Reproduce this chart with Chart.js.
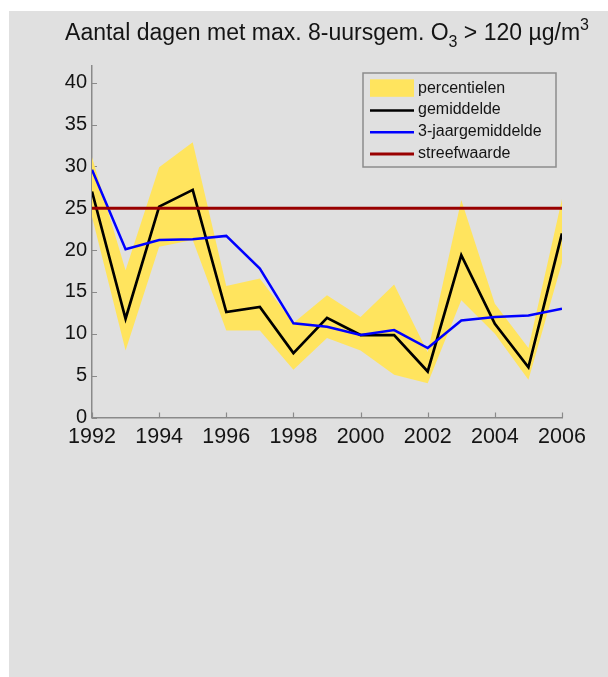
<!DOCTYPE html>
<html>
<head>
<meta charset="utf-8">
<script src="https://cdn.jsdelivr.net/npm/chart.js@4/dist/chart.umd.min.js"></script>
<style>
  html, body { margin: 0; padding: 0; background: #ffffff; }
  #panel { position: absolute; left: 9px; top: 11px; width: 599px; height: 666px; background: #e0e0e0; }
  canvas { display: block; }
</style>
</head>
<body>
<div id="panel"><canvas id="chart" width="599" height="666"></canvas></div>
<script>
// Aantal dagen met max. 8-uursgemiddelde O3 > 120 µg/m3, 1992-2006
const years = [1992, 1993, 1994, 1995, 1996, 1997, 1998, 1999, 2000, 2001, 2002, 2003, 2004, 2005, 2006];
const gemiddelde = [27.0, 11.8, 25.2, 27.2, 12.6, 13.2, 7.7, 11.9, 9.85, 9.85, 5.5, 19.4, 11.2, 6.0, 22.0];
const jaargemiddelde3 = [29.6, 20.1, 21.2, 21.3, 21.7, 17.8, 11.25, 10.85, 9.85, 10.45, 8.3, 11.6, 12.0, 12.2, 13.0];
const percentielHoog = [31.1, 17.6, 29.9, 32.9, 15.7, 16.6, 11.3, 14.6, 12.0, 15.9, 7.8, 26.0, 13.6, 8.3, 26.1];
const percentielLaag = [24.0, 8.0, 20.4, 21.2, 10.4, 10.4, 5.7, 9.5, 8.0, 5.1, 4.1, 14.0, 10.0, 4.5, 18.5];
const streefwaarde = [25, 25, 25, 25, 25, 25, 25, 25, 25, 25, 25, 25, 25, 25, 25];
const yTickValues = [0, 5, 10, 15, 20, 25, 30, 35, 40];
const xTickValues = [1992, 1994, 1996, 1998, 2000, 2002, 2004, 2006];

const FONT = '"Liberation Sans", Arial, Helvetica, sans-serif';
const AXIS_GREY = '#8a8a8a';
const TEXT = '#141414';

const series = (vals) => years.map((x, i) => ({ x: x, y: vals[i] }));

// Title with subscript and superscript
const titlePlugin = {
  id: 'titleO3',
  afterDraw(chart) {
    const ctx = chart.ctx;
    const parts = [
      { t: 'Aantal dagen met max. 8-uursgem. O', size: 23, dy: 0 },
      { t: '3', size: 16, dy: 7 },
      { t: ' > 120 µg/m', size: 23, dy: 0 },
      { t: '3', size: 16, dy: -10 }
    ];
    ctx.save();
    ctx.fillStyle = TEXT;
    ctx.textBaseline = 'alphabetic';
    ctx.textAlign = 'left';
    let total = 0;
    parts.forEach(p => { ctx.font = p.size + 'px ' + FONT; p.w = ctx.measureText(p.t).width; total += p.w; });
    const area = chart.chartArea;
    let x = (area.left + area.right) / 2 - total / 2;
    const base = 29;
    parts.forEach(p => { ctx.font = p.size + 'px ' + FONT; ctx.fillText(p.t, x, base + p.dy); x += p.w; });
    ctx.restore();
  }
};

// Inward tick marks on both axes
const tickMarks = {
  id: 'tickMarks',
  beforeDatasetsDraw(chart) {
    const ctx = chart.ctx;
    const xs = chart.scales.x, ys = chart.scales.y;
    ctx.save();
    ctx.strokeStyle = AXIS_GREY;
    ctx.lineWidth = 1.2;
    ctx.beginPath();
    yTickValues.forEach(v => {
      const py = Math.round(ys.getPixelForValue(v)) + 0.5;
      ctx.moveTo(xs.left, py); ctx.lineTo(xs.left + 5, py);
    });
    xTickValues.forEach(v => {
      const px = Math.round(xs.getPixelForValue(v)) + 0.5;
      ctx.moveTo(px, ys.bottom); ctx.lineTo(px, ys.bottom - 5);
    });
    ctx.stroke();
    ctx.restore();
  }
};

// Boxed legend inside the plot area, top right
const legendBox = {
  id: 'legendBox',
  afterDraw(chart) {
    const ctx = chart.ctx;
    const area = chart.chartArea;
    const order = ['percentielen', 'gemiddelde', '3-jaargemiddelde', 'streefwaarde'];
    const boxL = area.right - 199, boxT = area.top + 7, boxW = 193, boxH = 94;
    ctx.save();
    ctx.fillStyle = '#e0e0e0';
    ctx.fillRect(boxL, boxT, boxW, boxH);
    ctx.strokeStyle = '#8c8c8c';
    ctx.lineWidth = 1.5;
    ctx.strokeRect(boxL, boxT, boxW, boxH);
    ctx.font = '16px ' + FONT;
    ctx.textBaseline = 'middle';
    ctx.textAlign = 'left';
    order.forEach((label, i) => {
      const ds = chart.data.datasets.find(d => d.label === label);
      const cy = boxT + 15.3 + i * 21.7;
      const sx = boxL + 7, sw = 44;
      if (ds.fill) {
        ctx.fillStyle = ds.backgroundColor;
        ctx.fillRect(sx, cy - 9, sw, 17.5);
      } else {
        ctx.strokeStyle = ds.borderColor;
        ctx.lineWidth = ds.borderWidth;
        ctx.beginPath(); ctx.moveTo(sx, cy + 0.5); ctx.lineTo(sx + sw, cy + 0.5); ctx.stroke();
      }
      ctx.fillStyle = TEXT;
      ctx.fillText(label, boxL + 55, cy);
    });
    ctx.restore();
  }
};

new Chart(document.getElementById('chart'), {
  type: 'line',
  data: {
    datasets: [
      { label: 'streefwaarde', data: series(streefwaarde), borderColor: '#990000', borderWidth: 3, fill: false, order: 0 },
      { label: '3-jaargemiddelde', data: series(jaargemiddelde3), borderColor: '#0000ff', borderWidth: 2.5, fill: false, order: 1 },
      { label: 'gemiddelde', data: series(gemiddelde), borderColor: '#000000', borderWidth: 2.7, fill: false, order: 2 },
      { label: 'percentielen', data: series(percentielHoog), borderColor: 'rgba(0,0,0,0)', borderWidth: 0.01, backgroundColor: '#ffe45e', fill: '+1', order: 3 },
      { label: 'percentielen (onder)', data: series(percentielLaag), borderColor: 'rgba(0,0,0,0)', borderWidth: 0.01, fill: false, order: 4 }
    ]
  },
  options: {
    responsive: false,
    animation: false,
    devicePixelRatio: 1,
    layout: { padding: { top: 55, right: 46, bottom: 219.5, left: 0 } },
    elements: { point: { radius: 0, hoverRadius: 0 }, line: { tension: 0 } },
    plugins: { legend: { display: false }, tooltip: { enabled: false }, title: { display: false } },
    scales: {
      x: {
        type: 'linear', min: 1992, max: 2006,
        afterFit(s) { s.height = 40; },
        grid: { display: false, drawTicks: false },
        border: { display: true, color: AXIS_GREY, width: 1.5 },
        ticks: {
          stepSize: 2, padding: 7, color: TEXT, maxRotation: 0, autoSkip: false, includeBounds: false,
          font: { family: FONT, size: 21.5 },
          callback: (v) => String(v)
        }
      },
      y: {
        type: 'linear', min: 0, max: 42,
        afterFit(s) { s.width = 83; },
        grid: { display: false, drawTicks: false },
        border: { display: true, color: AXIS_GREY, width: 1.5 },
        ticks: {
          stepSize: 5, padding: 5, color: TEXT, includeBounds: false,
          font: { family: FONT, size: 20 }
        }
      }
    }
  },
  plugins: [titlePlugin, tickMarks, legendBox]
});
</script>
</body>
</html>
